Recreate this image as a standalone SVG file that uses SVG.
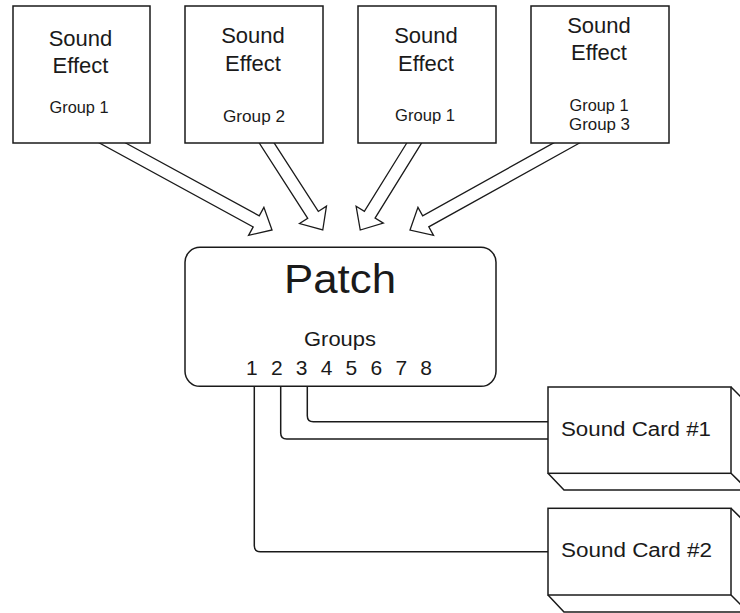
<svg xmlns="http://www.w3.org/2000/svg" width="740" height="613" viewBox="0 0 740 613">
<style>
.box{fill:#fff;stroke:#1a1a1a;stroke-width:1.5}
.arrow{fill:#fff;stroke:#1a1a1a;stroke-width:1.3;stroke-linejoin:miter}
.wire{fill:none;stroke:#1a1a1a;stroke-width:1.5}
.bevel{fill:none;stroke:#1a1a1a;stroke-width:1.5}
text{font-family:"Liberation Sans",Arial,sans-serif;fill:#1a1a1a}
.big{font-size:22px;text-anchor:middle}
.small{font-size:16.5px;text-anchor:middle}
.card{font-size:20px}
</style>
<rect width="740" height="613" fill="#fff"/>
<g id="connectors">
  <polygon class="arrow" transform="translate(112.5,143) rotate(28.6)" points="-14,-6.3 163.7,-6.3 163.7,-16 181.7,0 163.7,16 163.7,6.3 -14,6.3"/>
  <polygon class="arrow" transform="translate(266.7,143) rotate(57.2)" points="-14,-6.3 85.5,-6.3 85.5,-16 103.5,0 85.5,16 85.5,6.3 -14,6.3"/>
  <polygon class="arrow" transform="translate(414.2,143) rotate(121.8)" points="-14,-6.3 84.4,-6.3 84.4,-16 102.4,0 84.4,16 84.4,6.3 -14,6.3"/>
  <polygon class="arrow" transform="translate(566.5,143) rotate(150.9)" points="-14,-6.3 161.1,-6.3 161.1,-16 179.1,0 161.1,16 161.1,6.3 -14,6.3"/>
  <path class="wire" d="M307.3,386 V415.7 Q307.3,421.7 313.3,421.7 H548"/>
  <path class="wire" d="M280.7,386 V433 Q280.7,439 286.7,439 H548"/>
  <path class="wire" d="M254.3,386 V545.7 Q254.3,551.7 260.3,551.7 H548"/>
</g>
<g id="effect1">
  <rect class="box" x="13" y="6" width="137" height="137"/>
  <text class="big" x="80.5" y="46">Sound</text>
  <text class="big" x="80.5" y="73">Effect</text>
  <text class="small" x="79" y="113" textLength="59" lengthAdjust="spacingAndGlyphs">Group 1</text>
</g>
<g id="effect2">
  <rect class="box" x="185" y="6" width="138" height="137"/>
  <text class="big" x="253" y="43">Sound</text>
  <text class="big" x="253" y="70.7">Effect</text>
  <text class="small" x="254" y="121.7" textLength="62" lengthAdjust="spacingAndGlyphs">Group 2</text>
</g>
<g id="effect3">
  <rect class="box" x="358" y="6" width="138" height="137"/>
  <text class="big" x="426" y="43.3">Sound</text>
  <text class="big" x="426" y="70.7">Effect</text>
  <text class="small" x="425" y="120.7" textLength="60" lengthAdjust="spacingAndGlyphs">Group 1</text>
</g>
<g id="effect4">
  <rect class="box" x="531" y="6" width="138" height="137"/>
  <text class="big" x="599" y="32.7">Sound</text>
  <text class="big" x="599" y="60">Effect</text>
  <text class="small" x="599" y="110.7" textLength="59" lengthAdjust="spacingAndGlyphs">Group 1</text>
  <text class="small" x="599.5" y="130" textLength="61" lengthAdjust="spacingAndGlyphs">Group 3</text>
</g>
<g id="patch">
  <rect class="box" x="185" y="247.3" width="311" height="139" rx="15" ry="15"/>
  <text x="340" y="293.3" style="font-size:40px;text-anchor:middle" textLength="112" lengthAdjust="spacingAndGlyphs">Patch</text>
  <text x="340" y="346" style="font-size:21px;text-anchor:middle" textLength="72" lengthAdjust="spacingAndGlyphs">Groups</text>
  <text x="246" y="375" style="font-size:21px" textLength="186">1 2 3 4 5 6 7 8</text>
</g>
<g id="card1">
  <path class="bevel" d="M548,473.3 L564,490 H750 M731,473.3 L748,490 M731,387 L748,404"/>
  <rect class="box" x="548" y="387" width="183" height="86.3"/>
  <text class="card" x="561" y="436" textLength="150" lengthAdjust="spacingAndGlyphs">Sound Card #1</text>
</g>
<g id="card2">
  <path class="bevel" d="M548,595 L564,612 H750 M731,595 L748,612 M731,508.3 L748,525"/>
  <rect class="box" x="548" y="508.3" width="183" height="86.7"/>
  <text class="card" x="561" y="557.3" textLength="151" lengthAdjust="spacingAndGlyphs">Sound Card #2</text>
</g>
</svg>
